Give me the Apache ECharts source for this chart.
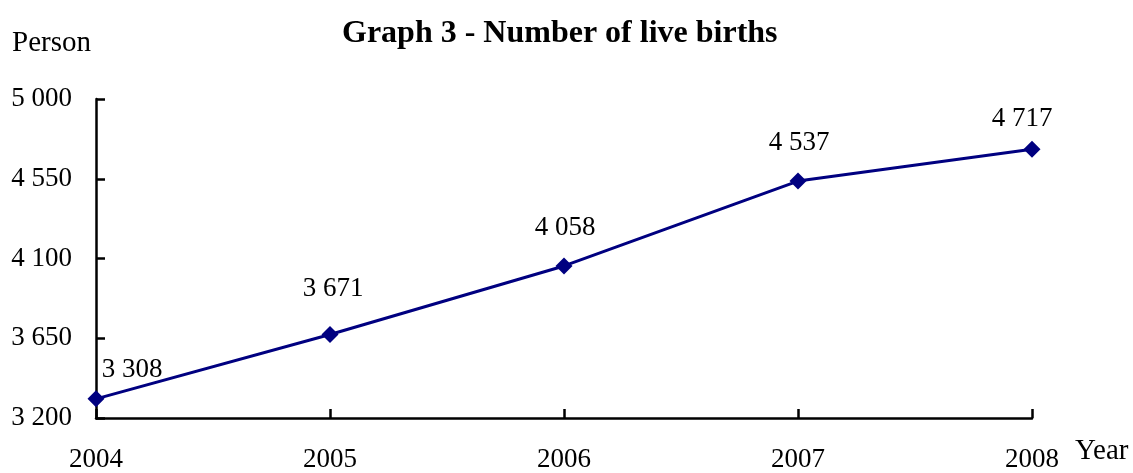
<!DOCTYPE html>
<html>
<head>
<meta charset="utf-8">
<script src="https://cdn.jsdelivr.net/npm/echarts@6/dist/echarts.min.js"></script>
<style>
  html, body { margin: 0; padding: 0; background: #fff; }
  #chart { width: 1133px; height: 473px; }
</style>
</head>
<body>
<div id="chart"></div>
<script>
// data
const years = ['2004', '2005', '2006', '2007', '2008'];
const births = [3308, 3671, 4058, 4537, 4717];

// label nudges (px) so the numbers sit where they do in the original
const labelShift = [[36, -29], [3, -46], [1, -38], [1, -38], [-10, -30]];

const serif = '"Liberation Serif", "Times New Roman", serif';
const fmt = v => String(v).replace(/\B(?=(\d{3})+(?!\d))/g, ' ');

const chart = echarts.init(document.getElementById('chart'));

const option = {
  backgroundColor: '#fff',
  animation: false,
  title: {
    text: 'Graph 3 - Number of live births',
    left: 337,
    top: 13,
    textStyle: { fontFamily: serif, fontWeight: 'bold', fontSize: 32, color: '#000' }
  },
  graphic: [
    { type: 'text', left: 12, top: 29,
      style: { text: 'Person', font: '29px ' + serif, fill: '#000' } },
    { type: 'text', left: 1075, top: 437,
      style: { text: 'Year', font: '29px ' + serif, fill: '#000' } }
  ],
  grid: { left: 96, right: 101, top: 99, bottom: 53, containLabel: false },
  xAxis: {
    type: 'category',
    data: years,
    boundaryGap: false,
    axisLine: { lineStyle: { color: '#000', width: 2.5 } },
    axisTick: { inside: true, length: 9, lineStyle: { color: '#000', width: 2.5 } },
    axisLabel: { margin: 28, color: '#000', fontFamily: serif, fontSize: 27 },
    splitLine: { show: false }
  },
  yAxis: {
    type: 'value',
    min: 3200,
    max: 5000,
    interval: 450,
    axisLine: { show: true, lineStyle: { color: '#000', width: 2.5 } },
    axisTick: { show: true, inside: true, length: 9, lineStyle: { color: '#000', width: 2.5 } },
    axisLabel: { margin: 24, color: '#000', fontFamily: serif, fontSize: 27, formatter: fmt },
    splitLine: { show: false }
  },
  series: [{
    type: 'line',
    data: births.map((v, i) => ({
      value: v,
      label: { offset: labelShift[i] }
    })),
    symbol: 'diamond',
    symbolSize: 17,
    lineStyle: { color: '#000080', width: 3 },
    itemStyle: { color: '#000080' },
    label: {
      show: true,
      position: 'inside',
      color: '#000',
      fontFamily: serif,
      fontSize: 27,
      formatter: p => fmt(p.value)
    }
  }]
};

chart.setOption(option);
</script>
</body>
</html>
